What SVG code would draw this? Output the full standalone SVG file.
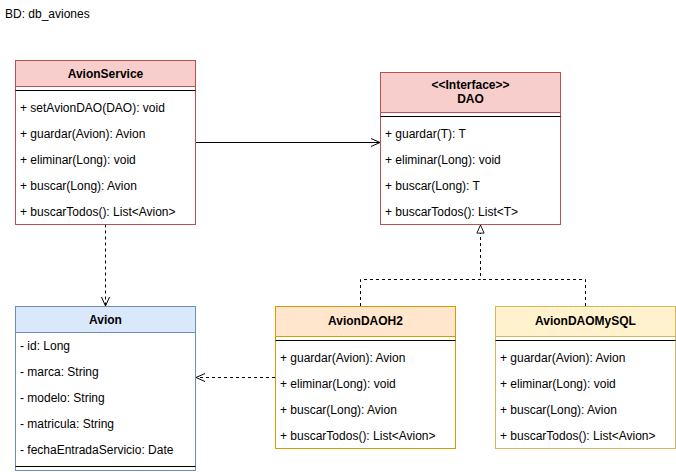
<svg xmlns="http://www.w3.org/2000/svg" width="676" height="472" viewBox="0 0 676 472">
<defs>
<style>
text{font-family:"Liberation Sans",Helvetica,Arial,sans-serif;font-size:12px;fill:#000}
.h{font-weight:bold;text-anchor:middle}
.sep{stroke:#000;stroke-width:1}
.c{fill:none;stroke:#000;stroke-width:1}
.d{stroke-dasharray:3 3}
.red{fill:#f8cecc;stroke:#b85450}
.blue{fill:#dae8fc;stroke:#6c8ebf}
.org{fill:#ffe6cc;stroke:#d79b00}
.yel{fill:#fff2cc;stroke:#d6b656}
.wr{fill:#fff;stroke:#b85450}
.wb{fill:#fff;stroke:#6c8ebf}
.wo{fill:#fff;stroke:#d79b00}
.wy{fill:#fff;stroke:#d6b656}
</style>
<marker id="open" viewBox="0 0 10 10" refX="10" refY="5" markerWidth="10" markerHeight="10" markerUnits="userSpaceOnUse" orient="auto">
<path d="M1,1 L10,5 L1,9" fill="none" stroke="#000" stroke-width="1"/>
</marker>
<marker id="tri" viewBox="0 0 10 10" refX="10" refY="5" markerWidth="9" markerHeight="9" markerUnits="userSpaceOnUse" orient="auto">
<path d="M1,1 L10,5 L1,9 Z" fill="#fff" stroke="#000" stroke-width="1"/>
</marker>
</defs>
<rect width="676" height="472" fill="#fff"/>
<text x="5" y="18">BD: db_aviones</text>

<g id="connectors">
<path class="c" d="M195.5,142.5 H380" marker-end="url(#open)"/>
<path class="c d" d="M105.5,224.5 V306" marker-end="url(#open)"/>
<path class="c d" d="M275,377.5 H196" marker-end="url(#open)"/>
<path class="c d" d="M360.5,306 V279.5 H480.5 V225" marker-end="url(#tri)"/>
<path class="c d" d="M585.5,306 V279.5 H480.5"/>
</g>

<g id="AvionService">
<rect class="wr" x="15.5" y="60.5" width="180" height="164"/>
<rect class="red" x="15.5" y="60.5" width="180" height="26"/>
<text class="h" x="105.5" y="78">AvionService</text>
<line class="sep" x1="15.5" y1="90.5" x2="195.5" y2="90.5"/>
<text x="20" y="112">+ setAvionDAO(DAO): void</text>
<text x="20" y="138">+ guardar(Avion): Avion</text>
<text x="20" y="164">+ eliminar(Long): void</text>
<text x="20" y="190">+ buscar(Long): Avion</text>
<text x="20" y="216">+ buscarTodos(): List&lt;Avion&gt;</text>
</g>

<g id="DAO">
<rect class="wr" x="380.5" y="72.5" width="180" height="152"/>
<rect class="red" x="380.5" y="72.5" width="180" height="40"/>
<text class="h" x="470.5" y="89">&lt;&lt;Interface&gt;&gt;</text>
<text class="h" x="470.5" y="103">DAO</text>
<line class="sep" x1="380.5" y1="116.5" x2="560.5" y2="116.5"/>
<text x="385" y="138">+ guardar(T): T</text>
<text x="385" y="164">+ eliminar(Long): void</text>
<text x="385" y="190">+ buscar(Long): T</text>
<text x="385" y="216">+ buscarTodos(): List&lt;T&gt;</text>
</g>

<g id="Avion">
<rect class="wb" x="15.5" y="306.5" width="180" height="164"/>
<rect class="blue" x="15.5" y="306.5" width="180" height="26"/>
<text class="h" x="105.5" y="324">Avion</text>
<text x="20" y="350">- id: Long</text>
<text x="20" y="376">- marca: String</text>
<text x="20" y="402">- modelo: String</text>
<text x="20" y="428">- matricula: String</text>
<text x="20" y="454">- fechaEntradaServicio: Date</text>
<line class="sep" x1="15.5" y1="466.5" x2="195.5" y2="466.5"/>
</g>

<g id="AvionDAOH2">
<rect class="wo" x="275.5" y="306.5" width="180" height="142"/>
<rect class="org" x="275.5" y="306.5" width="180" height="30"/>
<text class="h" x="365.5" y="325">AvionDAOH2</text>
<line class="sep" x1="275.5" y1="340.5" x2="455.5" y2="340.5"/>
<text x="280" y="362">+ guardar(Avion): Avion</text>
<text x="280" y="388">+ eliminar(Long): void</text>
<text x="280" y="414">+ buscar(Long): Avion</text>
<text x="280" y="440">+ buscarTodos(): List&lt;Avion&gt;</text>
</g>

<g id="AvionDAOMySQL">
<rect class="wy" x="495.5" y="306.5" width="180" height="142"/>
<rect class="yel" x="495.5" y="306.5" width="180" height="30"/>
<text class="h" x="585.5" y="325">AvionDAOMySQL</text>
<line class="sep" x1="495.5" y1="340.5" x2="675.5" y2="340.5"/>
<text x="500" y="362">+ guardar(Avion): Avion</text>
<text x="500" y="388">+ eliminar(Long): void</text>
<text x="500" y="414">+ buscar(Long): Avion</text>
<text x="500" y="440">+ buscarTodos(): List&lt;Avion&gt;</text>
</g>
</svg>
